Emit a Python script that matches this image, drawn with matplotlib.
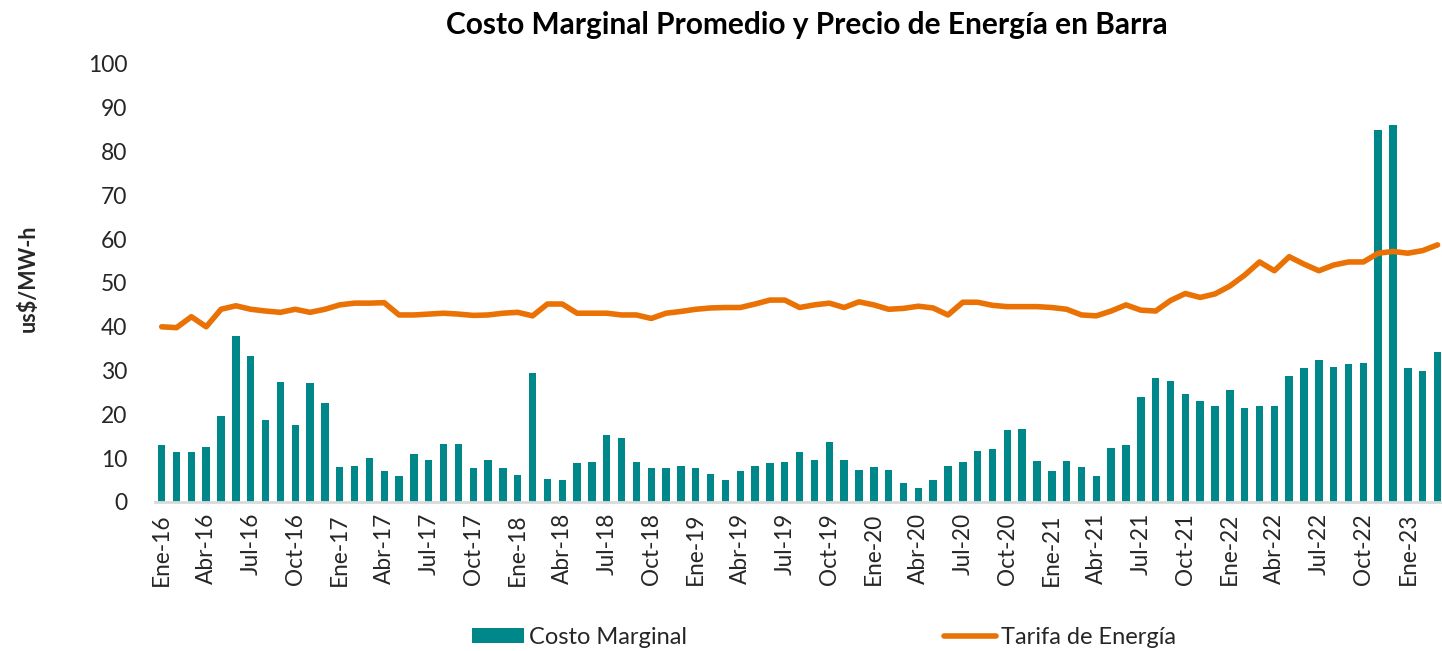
import matplotlib
matplotlib.use("Agg")
import matplotlib.pyplot as plt
import numpy as np

plt.rcParams['font.family'] = ['Lato', 'DejaVu Sans']

months_es = ["Ene", "Feb", "Mar", "Abr", "May", "Jun", "Jul", "Ago", "Sep", "Oct", "Nov", "Dic"]
years = [16, 17, 18, 19, 20, 21, 22, 23]
n_months = 87
labels = [f"{months_es[i % 12]}-{years[i // 12]}" for i in range(n_months)]

costo_marginal = [
    13.0, 11.5, 11.3, 12.5, 19.6, 38.0, 33.3, 18.7, 27.3, 17.5, 27.1, 22.6,
    8.0, 8.3, 10.0, 7.1, 5.9, 11.0, 9.7, 13.3, 13.3, 7.7, 9.7, 7.7,
    6.2, 29.4, 5.3, 5.0, 8.8, 9.1, 15.4, 14.5, 9.1, 7.7, 7.7, 8.2,
    7.7, 6.5, 5.0, 7.1, 8.2, 8.8, 9.1, 11.3, 9.7, 13.6, 9.7, 7.4,
    8.0, 7.4, 4.4, 3.2, 5.0, 8.2, 9.1, 11.6, 12.2, 16.4, 16.6, 9.4,
    7.1, 9.4, 8.0, 5.9, 12.4, 13.0, 24.0, 28.2, 27.6, 24.7, 23.1, 22.0,
    25.6, 21.4, 22.0, 22.0, 28.8, 30.6, 32.4, 30.9, 31.5, 31.8, 84.9, 86.1,
    30.6, 30.0, 34.2,
]

tarifa_energia = [
    40.0, 39.8, 42.3, 40.0, 44.0, 44.8, 44.0, 43.6, 43.3, 44.0, 43.3, 44.0,
    45.0, 45.4, 45.4, 45.5, 42.7, 42.7, 42.9, 43.1, 42.9, 42.6, 42.7, 43.1,
    43.3, 42.5, 45.2, 45.2, 43.1, 43.1, 43.1, 42.7, 42.7, 41.9, 43.1, 43.5,
    44.0, 44.3, 44.4, 44.4, 45.2, 46.1, 46.1, 44.4, 45.0, 45.4, 44.4, 45.7,
    45.0, 44.0, 44.2, 44.7, 44.3, 42.7, 45.6, 45.6, 44.9, 44.6, 44.6, 44.6,
    44.4, 44.0, 42.7, 42.5, 43.6, 45.0, 43.8, 43.6, 46.0, 47.6, 46.7, 47.5,
    49.3, 51.8, 54.8, 52.8, 56.0, 54.3, 52.8, 54.1, 54.8, 54.8, 56.8, 57.2,
    56.8, 57.4, 58.7,
]

teal = "#00878A"
orange = "#EA7104"
text_color = "#262626"

fig = plt.figure(figsize=(14.42, 6.51), dpi=100)
ax = fig.add_axes([0.1075, 0.2289, 0.8925, 0.6728])

x = np.arange(n_months)
bars = ax.bar(x, costo_marginal, width=0.5, color=teal, label="Costo Marginal", zorder=2)
line, = ax.plot(x, tarifa_energia, color=orange, linewidth=4.0, label="Tarifa de Energía",
                solid_capstyle="round", solid_joinstyle="round", zorder=3)

ax.set_xlim(-0.45, 86.3)
ax.set_ylim(0, 100)
ax.set_yticks(range(0, 101, 10))
ax.tick_params(axis='y', length=0, labelsize=16.5, pad=20, colors=text_color)
ax.set_xticks(x[::3])
ax.set_xticklabels(labels[::3], rotation=90, fontsize=16.3, color=text_color)
ax.tick_params(axis='x', length=0, pad=8)

for s in ["top", "right", "left"]:
    ax.spines[s].set_visible(False)
ax.spines["bottom"].set_color("#D9D9D9")
ax.spines["bottom"].set_linewidth(2)

fig.text(28 / 1442, 1 - 278 / 651, "us$/MW-h", rotation=90, ha="center", va="center",
         fontsize=15.5, fontweight="bold", color=text_color)
fig.text(0.5593, 0.961, "Costo Marginal Promedio y Precio de Energía en Barra",
         ha="center", va="center", fontsize=21.5, fontweight="bold", color="#000000")

fig.legend([bars, line], ["Costo Marginal", "Tarifa de Energía"],
           loc="center", bbox_to_anchor=(0.5715, 0.0215), ncol=2, frameon=False,
           fontsize=17, handlelength=2.2, handleheight=0.6, columnspacing=10.9,
           handletextpad=0.2, labelcolor=text_color)

fig.savefig("out.png", dpi=100, facecolor="white")
